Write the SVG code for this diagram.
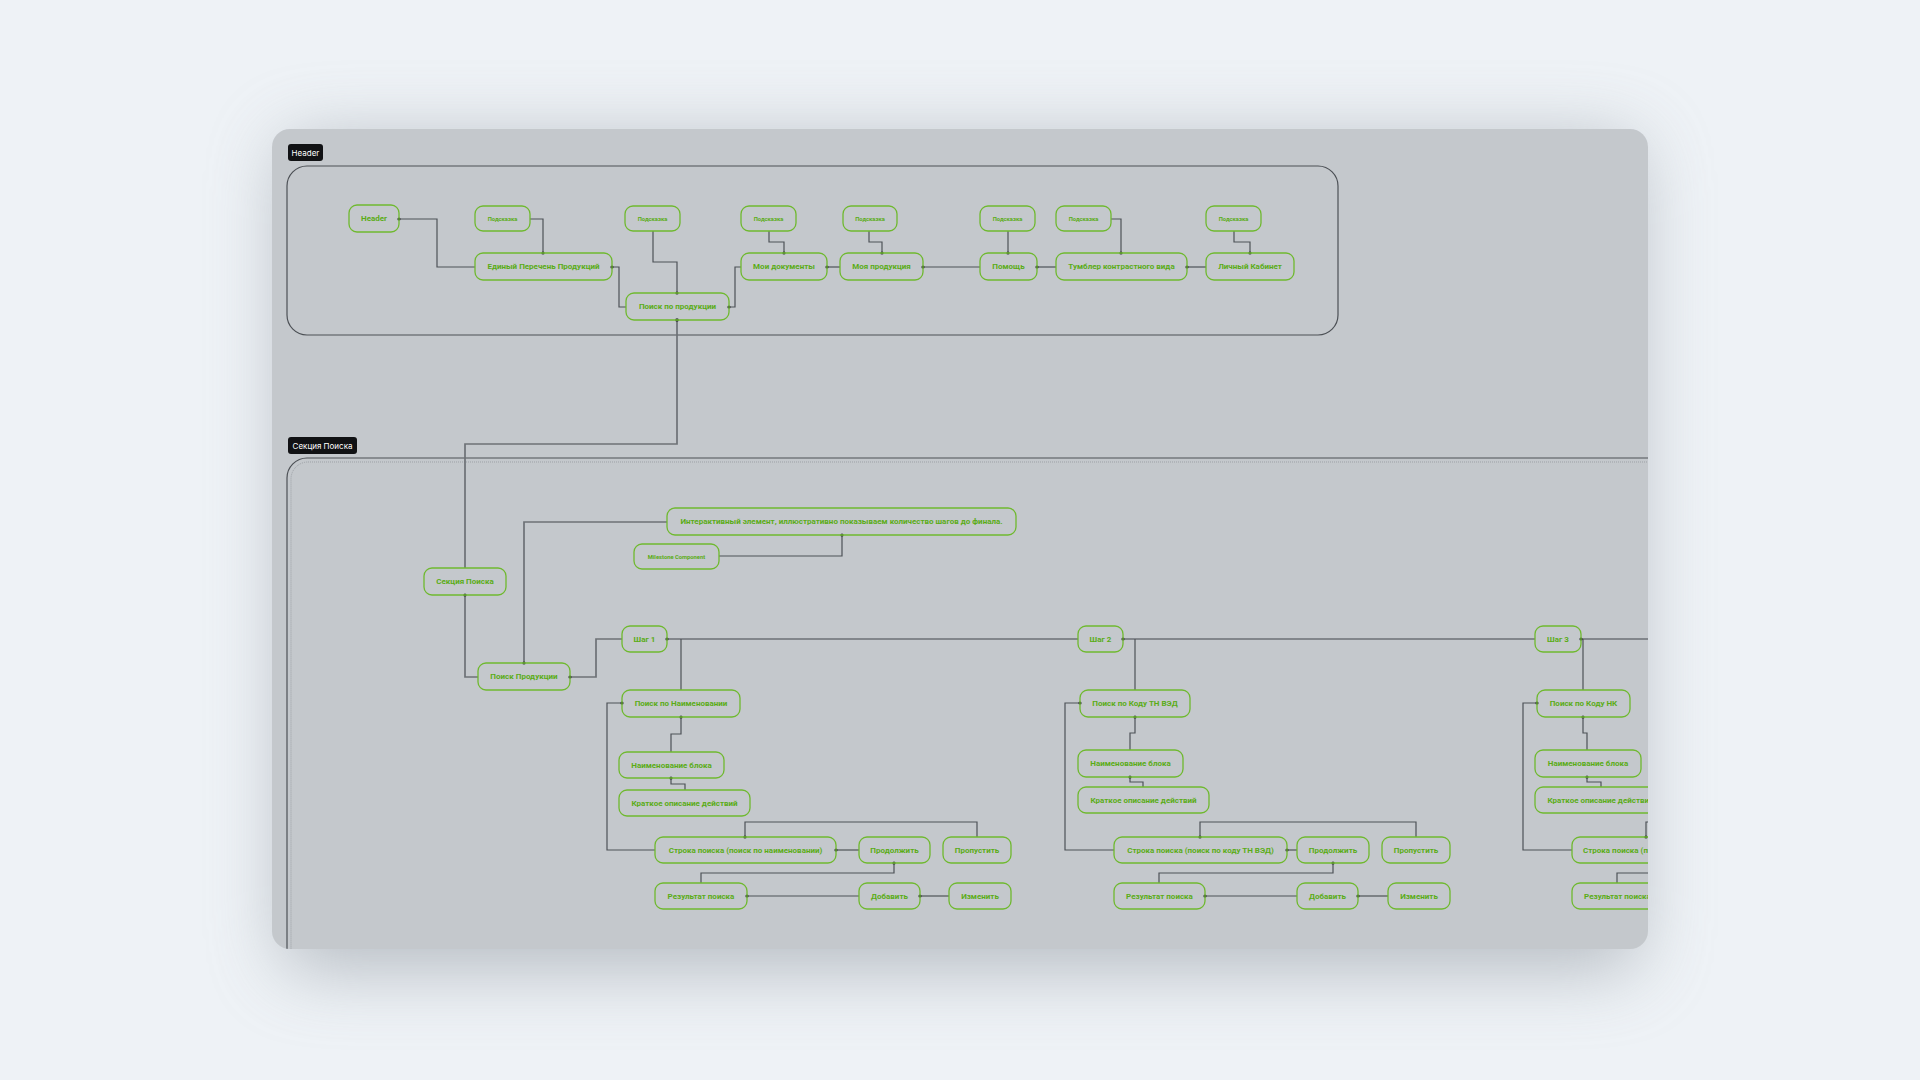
<svg xmlns="http://www.w3.org/2000/svg" width="1920" height="1080" viewBox="0 0 1920 1080">
<defs>
<style>
.n rect{fill:none;stroke:#6fb92f;stroke-width:1.3}
.n text{font-family:Roboto,"Liberation Sans",sans-serif;font-weight:700;font-size:8px;fill:#5aac16;text-anchor:middle;dominant-baseline:central}
.s text{font-size:5.8px}
.c path{fill:none;stroke:#4d5257;stroke-width:1.2}
.c path.l{stroke:#6d7176;stroke-width:1.7}
.c circle{fill:#2a2e32}
.tag rect{fill:#111214}
.tag text{font-family:Inter,Roboto,"Liberation Sans",sans-serif;font-size:8px;fill:#ffffff;text-anchor:middle;dominant-baseline:central}
.box{fill:none;stroke:#4c5055;stroke-width:1.2}
.inner{fill:none;stroke:#9da1a6;stroke-width:1;stroke-dasharray:1 1}
</style>
<filter id="sh" x="-25%" y="-25%" width="150%" height="150%">
<feGaussianBlur stdDeviation="36"/>
</filter>
<clipPath id="cardclip"><rect x="272" y="129" width="1376" height="820" rx="18"/></clipPath>
</defs>
<rect width="1920" height="1080" fill="#eef2f6"/>
<rect x="282" y="140" width="1356" height="830" rx="20" fill="#939aa2" opacity="0.6" filter="url(#sh)"/>
<rect x="272" y="129" width="1376" height="820" rx="18" fill="#c4c8cc"/>
<g clip-path="url(#cardclip)">
<g id="header-container">
<rect class="box" x="287" y="166" width="1051" height="169" rx="20"/>
<g class="tag"><rect x="288" y="144" width="35" height="17" rx="3"/><text x="305.5" y="152.5">Header</text></g>
</g>
<g id="search-container">
<rect class="box" x="287" y="458" width="1500" height="600" rx="20"/>
<rect class="inner" x="291" y="462" width="1492" height="592" rx="17"/>
<g class="tag"><rect x="288" y="437" width="69" height="17" rx="3"/><text x="322.5" y="445.5">Секция Поиска</text></g>
</g>
<g id="connectors" class="c">
<path d="M399,219 H437 V267 H475"/>
<path d="M530,219 H543 V253"/>
<path d="M612,267 H619 V307 H626"/>
<path d="M653,231 V262 H677 V293"/>
<path d="M729,307 H735 V267 H741"/>
<path d="M769,231 V242 H784 V253"/>
<path d="M869,231 V242 H882 V253"/>
<path d="M1008,231 V253"/>
<path d="M1111,219 H1121 V253"/>
<path d="M1234,231 V242 H1250 V253"/>
<path d="M840,267 H827"/>
<path d="M980,267 H923"/>
<path d="M1056,267 H1037"/>
<path d="M1206,267 H1187"/>
<path class="l" d="M677,320 V444 H465 V568"/>
<path d="M719,556 H842 V535"/>
<path class="l" d="M667,522 H524 V663"/>
<path class="l" d="M465,595 V677 H478"/>
<path class="l" d="M570,677 H596 V639 H622"/>
<path class="l" d="M667,639 H1078"/>
<path class="l" d="M1123,639 H1535"/>
<path class="l" d="M1581,639 H1700"/>
<path d="M681,639 V690"/>
<path d="M681,717 V734 H671 V752"/>
<path d="M671,778 V784 H685 V790"/>
<path d="M655,850 H607 V703 H622"/>
<path d="M977,837 V822 H745 V837"/>
<path d="M859,850 H836"/>
<path d="M701,883 V873 H894 V863"/>
<path d="M859,896 H747"/>
<path d="M949,896 H920"/>
<path d="M1135,639 V690"/>
<path d="M1135,717 V733 H1130 V750"/>
<path d="M1130,777 V782 H1143 V787"/>
<path d="M1114,850 H1065 V703 H1080"/>
<path d="M1416,837 V822 H1200 V837"/>
<path d="M1297,850 H1287"/>
<path d="M1159,883 V873 H1333 V863"/>
<path d="M1297,896 H1205"/>
<path d="M1388,896 H1358"/>
<path d="M1583,639 V690"/>
<path d="M1583,717 V733 H1587 V750"/>
<path d="M1587,777 V782 H1601 V787"/>
<path d="M1572,850 H1523 V703 H1537"/>
<path d="M1646,837 V822 H1700"/>
<path d="M1617,883 V873 H1700"/>
<circle cx="399" cy="219" r="1.6"/><circle cx="543" cy="253" r="1.6"/><circle cx="612" cy="267" r="1.6"/>
<circle cx="677" cy="293" r="1.6"/><circle cx="729" cy="307" r="1.6"/><circle cx="784" cy="253" r="1.6"/>
<circle cx="882" cy="253" r="1.6"/><circle cx="1008" cy="253" r="1.6"/><circle cx="1121" cy="253" r="1.6"/>
<circle cx="1250" cy="253" r="1.6"/><circle cx="827" cy="267" r="1.6"/><circle cx="923" cy="267" r="1.6"/>
<circle cx="1037" cy="267" r="1.6"/><circle cx="1187" cy="267" r="1.6"/><circle cx="677" cy="320" r="1.8"/>
<circle cx="842" cy="535" r="1.6"/><circle cx="524" cy="663" r="1.6"/><circle cx="465" cy="595" r="1.6"/>
<circle cx="570" cy="677" r="1.6"/><circle cx="667" cy="639" r="1.6"/><circle cx="1123" cy="639" r="1.6"/>
<circle cx="1581" cy="639" r="1.6"/>
<circle cx="681" cy="717" r="1.6"/><circle cx="671" cy="778" r="1.6"/><circle cx="622" cy="703" r="1.6"/>
<circle cx="745" cy="837" r="1.6"/><circle cx="836" cy="850" r="1.6"/><circle cx="894" cy="863" r="1.6"/>
<circle cx="747" cy="896" r="1.6"/><circle cx="920" cy="896" r="1.6"/>
<circle cx="1135" cy="717" r="1.6"/><circle cx="1130" cy="777" r="1.6"/><circle cx="1080" cy="703" r="1.6"/>
<circle cx="1200" cy="837" r="1.6"/><circle cx="1287" cy="850" r="1.6"/><circle cx="1333" cy="863" r="1.6"/>
<circle cx="1205" cy="896" r="1.6"/><circle cx="1358" cy="896" r="1.6"/>
<circle cx="1583" cy="717" r="1.6"/><circle cx="1587" cy="777" r="1.6"/><circle cx="1537" cy="703" r="1.6"/>
<circle cx="1646" cy="837" r="1.6"/>
</g>
<g id="n-header" class="n"><rect x="349" y="205" width="50" height="27" rx="8"/><text x="374" y="218.5">Header</text></g>
<g id="n-hint1" class="n s"><rect x="475" y="206" width="55" height="25" rx="8"/><text x="502.5" y="218.5">Подсказка</text></g>
<g id="n-edinyi" class="n"><rect x="475" y="253" width="137" height="27" rx="8"/><text x="543.5" y="266.5">Единый Перечень Продукций</text></g>
<g id="n-hint2" class="n s"><rect x="625" y="206" width="55" height="25" rx="8"/><text x="652.5" y="218.5">Подсказка</text></g>
<g id="n-poisk-prod" class="n"><rect x="626" y="293" width="103" height="27" rx="8"/><text x="677.5" y="306.5">Поиск по продукции</text></g>
<g id="n-hint3" class="n s"><rect x="741" y="206" width="55" height="25" rx="8"/><text x="768.5" y="218.5">Подсказка</text></g>
<g id="n-docs" class="n"><rect x="741" y="253" width="86" height="27" rx="8"/><text x="784" y="266.5">Мои документы</text></g>
<g id="n-hint4" class="n s"><rect x="843" y="206" width="54" height="25" rx="8"/><text x="870" y="218.5">Подсказка</text></g>
<g id="n-myprod" class="n"><rect x="840" y="253" width="83" height="27" rx="8"/><text x="881.5" y="266.5">Моя продукция</text></g>
<g id="n-hint5" class="n s"><rect x="980" y="206" width="55" height="25" rx="8"/><text x="1007.5" y="218.5">Подсказка</text></g>
<g id="n-help" class="n"><rect x="980" y="253" width="57" height="27" rx="8"/><text x="1008.5" y="266.5">Помощь</text></g>
<g id="n-hint6" class="n s"><rect x="1056" y="206" width="55" height="25" rx="8"/><text x="1083.5" y="218.5">Подсказка</text></g>
<g id="n-toggle" class="n"><rect x="1056" y="253" width="131" height="27" rx="8"/><text x="1121.5" y="266.5">Тумблер контрастного вида</text></g>
<g id="n-hint7" class="n s"><rect x="1206" y="206" width="55" height="25" rx="8"/><text x="1233.5" y="218.5">Подсказка</text></g>
<g id="n-cabinet" class="n"><rect x="1206" y="253" width="88" height="27" rx="8"/><text x="1250" y="266.5">Личный Кабинет</text></g>
<g id="n-section" class="n"><rect x="424" y="568" width="82" height="27" rx="8"/><text x="465" y="581.5">Секция Поиска</text></g>
<g id="n-poisk-produkcii" class="n"><rect x="478" y="663" width="92" height="27" rx="8"/><text x="524" y="676.5">Поиск Продукции</text></g>
<g id="n-interactive" class="n"><rect x="667" y="508" width="349" height="27" rx="8"/><text x="841.5" y="521.5">Интерактивный элемент, иллюстративно показываем количество шагов до финала.</text></g>
<g id="n-milestone" class="n s"><rect x="634" y="544" width="85" height="25" rx="8"/><text x="676.5" y="556.5">Milestone Component</text></g>
<g id="n-step1" class="n"><rect x="622" y="626" width="45" height="26" rx="8"/><text x="644.5" y="639">Шаг 1</text></g>
<g id="n-s1-search" class="n"><rect x="622" y="690" width="118" height="27" rx="8"/><text x="681" y="703.5">Поиск по Наименовании</text></g>
<g id="n-s1-name" class="n"><rect x="619" y="752" width="105" height="26" rx="8"/><text x="671.5" y="765">Наименование блока</text></g>
<g id="n-s1-desc" class="n"><rect x="619" y="790" width="131" height="26" rx="8"/><text x="684.5" y="803">Краткое описание действий</text></g>
<g id="n-s1-row" class="n"><rect x="655" y="837" width="181" height="26" rx="8"/><text x="745.5" y="850">Строка поиска (поиск по наименовании)</text></g>
<g id="n-s1-cont" class="n"><rect x="859" y="837" width="71" height="26" rx="8"/><text x="894.5" y="850">Продолжить</text></g>
<g id="n-s1-skip" class="n"><rect x="943" y="837" width="68" height="26" rx="8"/><text x="977" y="850">Пропустить</text></g>
<g id="n-s1-result" class="n"><rect x="655" y="883" width="92" height="26" rx="8"/><text x="701" y="896">Результат поиска</text></g>
<g id="n-s1-add" class="n"><rect x="859" y="883" width="61" height="26" rx="8"/><text x="889.5" y="896">Добавить</text></g>
<g id="n-s1-edit" class="n"><rect x="949" y="883" width="62" height="26" rx="8"/><text x="980" y="896">Изменить</text></g>
<g id="n-step2" class="n"><rect x="1078" y="626" width="45" height="26" rx="8"/><text x="1100.5" y="639">Шаг 2</text></g>
<g id="n-s2-search" class="n"><rect x="1080" y="690" width="110" height="27" rx="8"/><text x="1135" y="703.5">Поиск по Коду ТН ВЭД</text></g>
<g id="n-s2-name" class="n"><rect x="1078" y="750" width="105" height="27" rx="8"/><text x="1130.5" y="763.5">Наименование блока</text></g>
<g id="n-s2-desc" class="n"><rect x="1078" y="787" width="131" height="26" rx="8"/><text x="1143.5" y="800">Краткое описание действий</text></g>
<g id="n-s2-row" class="n"><rect x="1114" y="837" width="173" height="26" rx="8"/><text x="1200.5" y="850">Строка поиска (поиск по коду ТН ВЭД)</text></g>
<g id="n-s2-cont" class="n"><rect x="1297" y="837" width="72" height="26" rx="8"/><text x="1333" y="850">Продолжить</text></g>
<g id="n-s2-skip" class="n"><rect x="1382" y="837" width="68" height="26" rx="8"/><text x="1416" y="850">Пропустить</text></g>
<g id="n-s2-result" class="n"><rect x="1114" y="883" width="91" height="26" rx="8"/><text x="1159.5" y="896">Результат поиска</text></g>
<g id="n-s2-add" class="n"><rect x="1297" y="883" width="61" height="26" rx="8"/><text x="1327.5" y="896">Добавить</text></g>
<g id="n-s2-edit" class="n"><rect x="1388" y="883" width="62" height="26" rx="8"/><text x="1419" y="896">Изменить</text></g>
<g id="n-step3" class="n"><rect x="1535" y="626" width="46" height="26" rx="8"/><text x="1558" y="639">Шаг 3</text></g>
<g id="n-s3-search" class="n"><rect x="1537" y="690" width="93" height="27" rx="8"/><text x="1583.5" y="703.5">Поиск по Коду НК</text></g>
<g id="n-s3-name" class="n"><rect x="1535" y="750" width="106" height="27" rx="8"/><text x="1588" y="763.5">Наименование блока</text></g>
<g id="n-s3-desc" class="n"><rect x="1535" y="787" width="131" height="26" rx="8"/><text x="1600.5" y="800">Краткое описание действий</text></g>
<g id="n-s3-row" class="n"><rect x="1572" y="837" width="150" height="26" rx="8"/><text x="1583" y="850" style="text-anchor:start">Строка поиска (поиск по коду НК)</text></g>
<g id="n-s3-result" class="n"><rect x="1572" y="883" width="91" height="26" rx="8"/><text x="1617.5" y="896">Результат поиска</text></g>
</g>
</svg>
